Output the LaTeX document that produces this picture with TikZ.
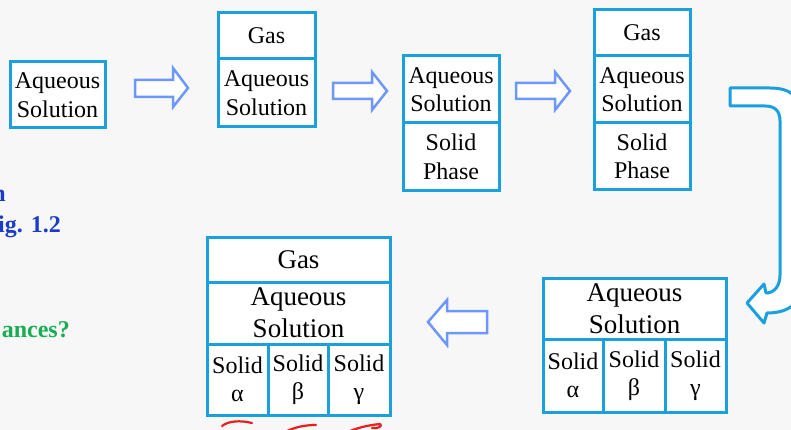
\documentclass[tikz,border=0pt]{standalone}
\usepackage{fontspec}
\setmainfont{Liberation Serif}
\definecolor{boxblue}{RGB}{27,160,222}
\definecolor{arrowblue}{RGB}{108,152,252}
\definecolor{pagebg}{RGB}{247,247,247}
\definecolor{titleblue}{RGB}{26,60,200}
\definecolor{titlegreen}{RGB}{26,172,80}
\definecolor{penred}{RGB}{235,30,30}
\tikzset{
  cell/.style={draw=boxblue, line width=3pt, fill=white, inner sep=0pt,
    align=center, font=\fontsize{24}{28.5}\selectfont},
  bigcell/.style={cell, font=\fontsize{27}{32}\selectfont},
  blockarrow/.style={draw=arrowblue, line width=2.5pt, fill=white, line join=miter},
  bentarrow/.style={draw=boxblue, line width=3pt, fill=white, line join=round},
  sidetext/.style={anchor=base east, inner sep=0pt, font=\fontsize{24}{28}\selectfont\bfseries},
  scribble/.style={draw=penred, line width=2.2pt, line cap=round, line join=round},
}
\begin{document}
\begin{tikzpicture}[x=1pt, y=-1pt]
  \useasboundingbox (0,0) rectangle (791,430);
  \clip (0,0) rectangle (791,430);
  \fill[pagebg] (0,0) rectangle (791,430);

  % headings running in from the left margin
  \node[sidetext, text=titleblue] (h1) at (6,202) {n};
  \node[sidetext, text=titleblue] (h2) at (61,232) {ig. 1.2};
  \node[sidetext, text=titlegreen] (h3) at (70,337) {ances?};

  % stage 1
  \node[cell, minimum width=95pt, minimum height=66pt] (s1aq) at (57.5,95) {Aqueous\\Solution};

  % stage 2
  \node[cell, minimum width=97pt, minimum height=46pt] (s2gas) at (266.5,36) {Gas};
  \node[cell, minimum width=97pt, minimum height=68pt] (s2aq) at (266.5,93) {Aqueous\\Solution};

  % stage 3
  \node[cell, minimum width=96pt, minimum height=67pt] (s3aq) at (451,89.5) {Aqueous\\Solution};
  \node[cell, minimum width=96pt, minimum height=68pt] (s3sol) at (451,157) {Solid\\Phase};

  % stage 4
  \node[cell, minimum width=96pt, minimum height=46pt] (s4gas) at (642,33) {Gas};
  \node[cell, minimum width=96pt, minimum height=67pt] (s4aq) at (642,89.5) {Aqueous\\Solution};
  \node[cell, minimum width=96pt, minimum height=67pt] (s4sol) at (642,156.5) {Solid\\Phase};

  % stage 5 (right, lower row)
  \node[bigcell, minimum width=183pt, minimum height=61pt] (s5aq) at (634.5,308.5) {Aqueous\\Solution};
  \node[cell, minimum width=60pt, minimum height=73pt] (s5a) at (573,375.5) {Solid\\α};
  \node[cell, minimum width=62pt, minimum height=73pt] (s5b) at (634,375.5) {Solid\\β};
  \node[cell, minimum width=61pt, minimum height=73pt] (s5c) at (695.5,375.5) {Solid\\γ};

  % stage 6 (left, lower row)
  \node[bigcell, minimum width=183pt, minimum height=45pt] (s6gas) at (298.5,259.5) {Gas};
  \node[bigcell, minimum width=183pt, minimum height=62pt] (s6aq) at (298.5,313) {Aqueous\\Solution};
  \node[cell, minimum width=61pt, minimum height=71pt] (s6a) at (237.5,379.5) {Solid\\α};
  \node[cell, minimum width=60pt, minimum height=71pt] (s6b) at (298,379.5) {Solid\\β};
  \node[cell, minimum width=62pt, minimum height=71pt] (s6c) at (359,379.5) {Solid\\γ};

  % hollow block arrows between stages
  \draw[blockarrow] (135,80) -- (173,80) -- (173,68) -- (188,88) -- (173,107) -- (173,97) -- (135,97) -- cycle;
  \draw[blockarrow] (333,83) -- (372,83) -- (372,72) -- (387,91) -- (372,110) -- (372,99) -- (333,99) -- cycle;
  \draw[blockarrow] (516,83) -- (555,83) -- (555,72) -- (570,91) -- (555,110) -- (555,99) -- (516,99) -- cycle;
  \draw[blockarrow] (487,311) -- (447,311) -- (447,300) -- (428,322) -- (447,345) -- (447,333) -- (487,333) -- cycle;

  % U-turn arrow down the right margin (outer edge runs past the page)
  \draw[bentarrow] (730,88) -- (770,88)
    .. controls (792,88) and (802,98) .. (802,120) -- (802,282)
    .. controls (802,302) and (790,313) .. (767,313)
    -- (764,323) -- (747,303) -- (764,284) -- (766,293)
    .. controls (775,293) and (780,285) .. (780,275) -- (780,121)
    .. controls (780,111) and (775,106) .. (765,106) -- (730,106) -- cycle;

  % red pen marks under the last stage
  \draw[scribble] (222,426) .. controls (228,421) and (240,420) .. (252,423);
  \draw[scribble] (287,431) .. controls (296,427) and (305,425) .. (316,425);
  \draw[scribble] (350,431) .. controls (360,427) and (370,425) .. (380,424)
    .. controls (383,426) and (378,429) .. (372,428);
\end{tikzpicture}
\end{document}
